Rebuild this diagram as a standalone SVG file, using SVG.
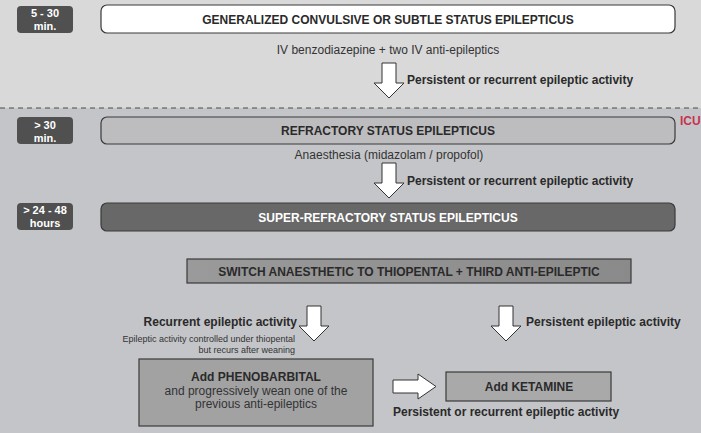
<svg xmlns="http://www.w3.org/2000/svg" width="701" height="433" viewBox="0 0 701 433">
<defs>
<style>
text{font-family:"Liberation Sans",Arial,sans-serif;}
.badge{fill:#505050;}
.bt{fill:#ffffff;font-size:11px;font-weight:bold;text-anchor:middle;}
.box{stroke:#3a3a3a;stroke-width:1.2;}
.bx{font-size:12px;font-weight:bold;text-anchor:middle;fill:#2a2a2a;}
.nt{font-size:12px;fill:#333333;}
.lbl{font-size:12px;font-weight:bold;fill:#2a2a2a;}
.small{font-size:9px;fill:#333333;text-anchor:end;}
.arrow{fill:#ffffff;stroke:#333333;stroke-width:1;}
</style>
<path id="down" d="M-7,0 H7 V20 H15 L0,35 L-15,20 H-7 Z"/>
<linearGradient id="gSwitch" x1="0" y1="0" x2="1" y2="0">
<stop offset="0" stop-color="#9a9a9a"/>
<stop offset="1" stop-color="#8a8a8a"/>
</linearGradient>
</defs>
<rect x="0" y="0" width="701" height="108" fill="#d9d9da"/>
<rect x="0" y="108" width="701" height="325" fill="#c4c5c8"/>
<line x1="0" y1="108" x2="701" y2="108" stroke="#4a4a4a" stroke-width="1" stroke-dasharray="5,4"/>
<text x="680" y="124.5" font-size="12" font-weight="bold" fill="#c8324f">ICU</text>

<g id="badge1">
<rect class="badge" x="17" y="6" width="56" height="27" rx="4"/>
<text class="bt" x="45" y="17">5 - 30</text>
<text class="bt" x="45" y="30">min.</text>
</g>
<g id="badge2">
<rect class="badge" x="17" y="117" width="56" height="27" rx="4"/>
<text class="bt" x="45" y="128.5">&gt; 30</text>
<text class="bt" x="45" y="141.5">min.</text>
</g>
<g id="badge3">
<rect class="badge" x="17" y="203" width="56" height="27" rx="4"/>
<text class="bt" x="45" y="214">&gt; 24 - 48</text>
<text class="bt" x="45" y="227">hours</text>
</g>

<g id="n-generalized">
<rect class="box" x="101" y="5" width="574" height="28" rx="6" fill="#ffffff"/>
<text class="bx" x="388" y="23.5">GENERALIZED CONVULSIVE OR SUBTLE STATUS EPILEPTICUS</text>
</g>
<text class="nt" x="388" y="54" text-anchor="middle">IV benzodiazepine + two IV anti-epileptics</text>

<g id="n-refractory">
<rect class="box" x="101" y="117" width="574" height="27" rx="6" fill="#bdbdbf"/>
<text class="bx" x="388" y="134.5">REFRACTORY STATUS EPILEPTICUS</text>
</g>
<text class="nt" x="389" y="159" text-anchor="middle">Anaesthesia (midazolam / propofol)</text>

<g id="n-super">
<rect class="box" x="101" y="203" width="574" height="28" rx="6" fill="#686868"/>
<text class="bx" x="388" y="221.5" style="fill:#ffffff">SUPER-REFRACTORY STATUS EPILEPTICUS</text>
</g>

<g id="n-switch">
<rect class="box" x="187" y="259" width="444" height="24" fill="url(#gSwitch)"/>
<text class="bx" x="409" y="275.5">SWITCH ANAESTHETIC TO THIOPENTAL + THIRD ANTI-EPILEPTIC</text>
</g>

<g id="n-phenobarbital">
<rect class="box" x="139" y="359" width="234" height="67" fill="#a2a2a3"/>
<text class="bx" x="256" y="381">Add PHENOBARBITAL</text>
<text class="nt" x="256" y="395" text-anchor="middle">and progressively wean one of the</text>
<text class="nt" x="256" y="408" text-anchor="middle">previous anti-epileptics</text>
</g>

<g id="n-ketamine">
<rect class="box" x="446" y="372" width="165" height="29" fill="#a9a9aa"/>
<text class="bx" x="529" y="391">Add KETAMINE</text>
</g>

<g id="connectors">
<use href="#down" class="arrow" x="389" y="63"/>
<text class="lbl" x="407" y="84">Persistent or recurrent epileptic activity</text>
<use href="#down" class="arrow" x="389" y="163"/>
<text class="lbl" x="407" y="185">Persistent or recurrent epileptic activity</text>
<use href="#down" class="arrow" x="314" y="306"/>
<text class="lbl" x="297" y="326" text-anchor="end">Recurrent epileptic activity</text>
<text class="small" x="295" y="342">Epileptic activity controlled under thiopental</text>
<text class="small" x="295" y="353">but recurs after weaning</text>
<use href="#down" class="arrow" x="506" y="306"/>
<text class="lbl" x="526" y="326">Persistent epileptic activity</text>
<path class="arrow" d="M393,380 H418 V374 L436,386.5 L418,399 V393 H393 Z"/>
<text class="lbl" x="393" y="416">Persistent or recurrent epileptic activity</text>
</g>
</svg>
